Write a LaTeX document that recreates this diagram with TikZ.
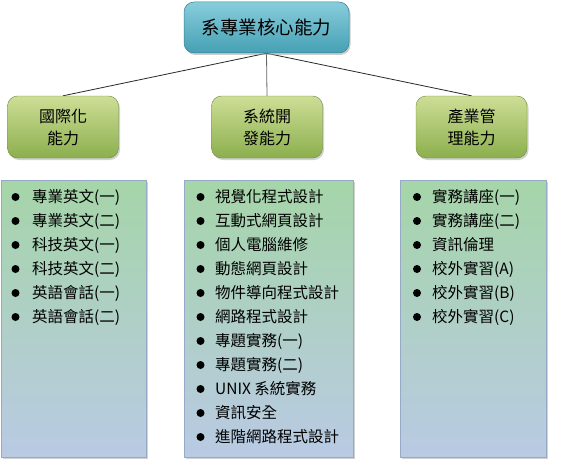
\documentclass[tikz,border=0pt]{standalone}
\usepackage{fontspec}
\setmainfont{Noto Sans CJK TC}
\usetikzlibrary{shadows,backgrounds}
\definecolor{topA}{RGB}{135,205,220}
\definecolor{topB}{RGB}{70,160,180}
\definecolor{grnA}{RGB}{205,222,150}
\definecolor{grnB}{RGB}{140,175,78}
\definecolor{lstA}{RGB}{165,213,168}
\definecolor{lstB}{RGB}{185,202,228}
\definecolor{lstBorder}{RGB}{150,170,200}
\definecolor{lineGray}{RGB}{40,40,40}
\tikzset{
  x=1pt,y=-1pt,
  topbox/.style={draw=topB!80!black, line width=0.5pt, rounded corners=10pt, top color=topA, bottom color=topB,
    minimum width=165pt, minimum height=51pt, font=\fontsize{18.5}{20}\selectfont, inner sep=0pt,
    drop shadow={shadow xshift=1.5pt, shadow yshift=-2pt, fill=black!40}},
  grnbox/.style={draw=grnB!80!black, line width=0.4pt, rounded corners=10pt, top color=grnA, bottom color=grnB,
    minimum width=111pt, minimum height=62pt, font=\fontsize{16}{22}\selectfont, align=center, inner sep=0pt,
    drop shadow={shadow xshift=1.5pt, shadow yshift=-2pt, fill=black!35}},
  lstbox/.style={draw=lstBorder, line width=0.6pt, top color=lstA, bottom color=lstB,
    minimum height=277pt, inner sep=0pt,
    drop shadow={shadow xshift=1.5pt, shadow yshift=-1.5pt, fill=black!35}},
  itemtxt/.style={anchor=west, inner sep=0pt, font=\fontsize{15.5}{16}\selectfont},
  conn/.style={draw=lineGray, line width=0.8pt},
}
\begin{document}
\begin{tikzpicture}
\useasboundingbox (0,0) rectangle (562,460);
% list boxes
\node[lstbox, minimum width=145pt] (L1) at (73.5,318.5) {};
\node[lstbox, minimum width=169pt] (L2) at (268.5,318.5) {};
\node[lstbox, minimum width=146pt] (L3) at (473,318.5) {};
% top and category boxes
\node[topbox] (top) at (266.5,27.5) {系專業核心能力};
\node[grnbox] (g1) at (63,127) {國際化\\能力};
\node[grnbox] (g2) at (267,127) {系統開\\發能力};
\node[grnbox] (g3) at (471.5,127) {產業管\\理能力};
% connectors
\begin{scope}[on background layer]
\draw[conn] (top.south) -- (g1.north);
\draw[conn, draw=black!60] (top.south) -- (g2.north);
\draw[conn] (top.south) -- (g3.north);
\end{scope}
% items
\foreach \t [count=\i] in {專業英文(一),專業英文(二),科技英文(一),科技英文(二),英語會話(一),英語會話(二)}{
  \fill (15.5,{197+24*(\i-1)}) circle (4);
  \node[itemtxt] (a\i) at (32,{197+24*(\i-1)}) {\t};
}
\foreach \t [count=\i] in {視覺化程式設計,互動式網頁設計,個人電腦維修,動態網頁設計,物件導向程式設計,網路程式設計,專題實務(一),專題實務(二),UNIX 系統實務,資訊安全,進階網路程式設計}{
  \fill (200.5,{197+24*(\i-1)}) circle (4);
  \node[itemtxt] (b\i) at (215,{197+24*(\i-1)}) {\t};
}
\foreach \t [count=\i] in {實務講座(一),實務講座(二),資訊倫理,校外實習(A),校外實習(B),校外實習(C)}{
  \fill (417,{197+24*(\i-1)}) circle (4);
  \node[itemtxt] (c\i) at (432,{197+24*(\i-1)}) {\t};
}
\end{tikzpicture}
\end{document}
